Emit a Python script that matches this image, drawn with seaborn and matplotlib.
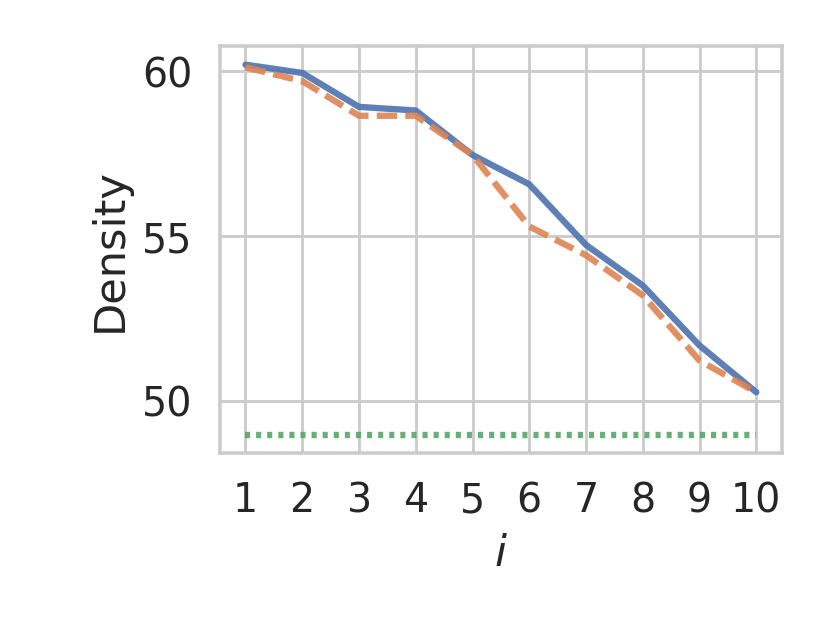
import matplotlib
matplotlib.use("Agg")
import matplotlib.pyplot as plt
import numpy as np
import pandas as pd
import seaborn as sns

# values
steps = list(range(1, 11))
solid_vals = [60.20, 59.95, 58.92, 58.81, 57.46, 56.57, 54.73, 53.50, 51.68, 50.26]
dashed_vals = [60.12, 59.70, 58.65, 58.65, 57.46, 55.29, 54.42, 53.20, 51.22, 50.26]
dotted_vals = [48.97] * 10

df = pd.concat([
    pd.DataFrame({"i": steps, "Density": solid_vals, "series": "solid"}),
    pd.DataFrame({"i": steps, "Density": dashed_vals, "series": "dashed"}),
    pd.DataFrame({"i": steps, "Density": dotted_vals, "series": "dotted"}),
])

sns.set_theme(style="whitegrid", font_scale=1.25)

fig, ax = plt.subplots(figsize=(4, 3), dpi=207.5)
sns.lineplot(
    data=df, x="i", y="Density",
    hue="series", style="series",
    dashes=["", (3.2, 1.3), (0.8, 0.95)],
    linewidth=2.2, alpha=0.9,
    legend=False, ax=ax,
)
ax.set_xticks(steps)
ax.set_yticks([50, 55, 60])
ax.set_xlabel("$i$")
ax.set_ylabel("Density")
fig.subplots_adjust(left=0.265, right=0.942, top=0.925, bottom=0.271)
plt.savefig("out.png", dpi=207.5)
